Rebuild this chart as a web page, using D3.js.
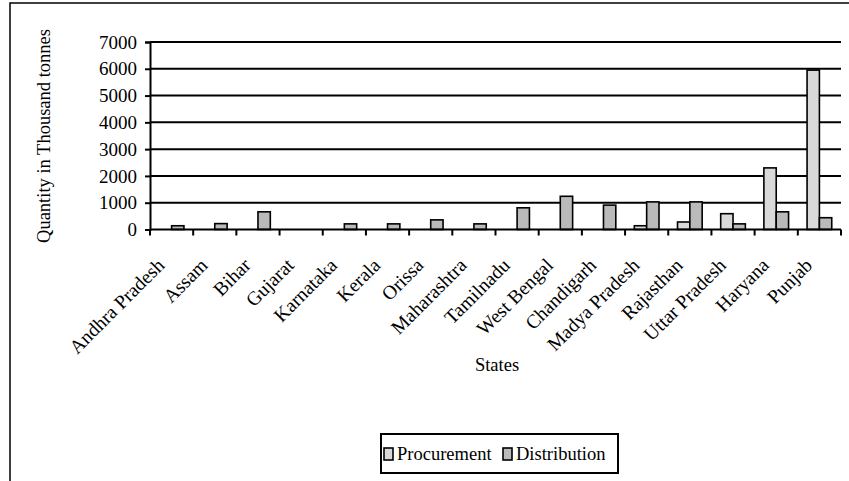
<!DOCTYPE html>
<html>
<head>
<meta charset="utf-8">
<script src="https://cdn.jsdelivr.net/npm/d3@7"></script>
<style>
  html, body { margin: 0; padding: 0; background: #fff; }
  svg { display: block; font-family: "Liberation Serif", "Times New Roman", serif; }
</style>
</head>
<body>
<svg id="chart" width="849" height="481"></svg>
<script>
// States in display order
const states = ["Andhra Pradesh", "Assam", "Bihar", "Gujarat", "Karnataka", "Kerala",
  "Orissa", "Maharashtra", "Tamilnadu", "West Bengal", "Chandigarh", "Madya Pradesh",
  "Rajasthan", "Uttar Pradesh", "Haryana", "Punjab"];

// Quantities in thousand tonnes
const procurement = [0, 0, 0, 0, 0, 0, 0, 0, 0, 0, 0, 140, 280, 590, 2300, 5950];
const distribution = [140, 220, 660, 0, 210, 210, 360, 210, 810, 1240, 910, 1030, 1030, 210, 660, 440];

const seriesNames = ["Procurement", "Distribution"];
const seriesColors = ["#d9d9d9", "#bababa"];
const yTicks = [0, 1000, 2000, 3000, 4000, 5000, 6000, 7000];

const FONT = 18.5;
const svg = d3.select("#chart");

// outer chart frame
svg.append("rect")
  .attr("x", 10).attr("y", 3)
  .attr("width", 900).attr("height", 600)
  .attr("fill", "none").attr("stroke", "#000").attr("stroke-width", 1.5);

const plot = { left: 150, right: 841, top: 42, bottom: 229.5 };

const x = d3.scaleBand().domain(states).range([plot.left, plot.right]).paddingInner(0).paddingOuter(0);
const y = d3.scaleLinear().domain([0, 7000]).range([plot.bottom, plot.top]);

// bars: two per state, centred in the band
const barW = x.bandwidth() / 3.5;
const rows = states.map((s, i) => ({ state: s, values: [procurement[i], distribution[i]] }));

// horizontal gridlines
svg.append("g")
  .selectAll("line")
  .data(yTicks.filter(t => t > 0))
  .join("line")
  .attr("x1", plot.left).attr("x2", plot.right)
  .attr("y1", d => y(d)).attr("y2", d => y(d))
  .attr("stroke", "#000").attr("stroke-width", 2);

const groups = svg.append("g").selectAll("g")
  .data(rows).join("g")
  .attr("transform", d => `translate(${x(d.state) + x.bandwidth() / 2},0)`);

groups.selectAll("rect")
  .data(d => d.values.map((v, k) => ({ v, k })).filter(e => e.v > 0))
  .join("rect")
  .attr("x", e => (e.k === 0 ? -barW : 0))
  .attr("width", barW)
  .attr("y", e => y(e.v))
  .attr("height", e => y(0) - y(e.v))
  .attr("fill", e => seriesColors[e.k])
  .attr("stroke", "#000").attr("stroke-width", 1.6);

// y axis
const yAxis = svg.append("g")
  .attr("transform", `translate(${plot.left},0)`)
  .call(d3.axisLeft(y).tickValues(yTicks).tickSize(5).tickPadding(8).tickFormat(d3.format("d")));
yAxis.selectAll("path, line").attr("stroke", "#000").attr("stroke-width", 2);
yAxis.selectAll("text").attr("font-size", 19).attr("font-family", "Liberation Serif").attr("fill", "#000");

// x axis with ticks at category boundaries
const xAxisG = svg.append("g").attr("transform", `translate(0,${plot.bottom})`);
xAxisG.append("line")
  .attr("x1", plot.left).attr("x2", plot.right)
  .attr("stroke", "#000").attr("stroke-width", 2);
xAxisG.selectAll("line.tick")
  .data(states.concat(["end"]))
  .join("line").attr("class", "tick")
  .attr("x1", (d, i) => plot.left + i * x.step())
  .attr("x2", (d, i) => plot.left + i * x.step())
  .attr("y1", 0).attr("y2", 6)
  .attr("stroke", "#000").attr("stroke-width", 2);

// rotated state labels
svg.append("g").selectAll("text")
  .data(states).join("text")
  .attr("transform", d => `translate(${x(d) + x.bandwidth() / 2 - 6},${plot.bottom + 37}) rotate(-45)`)
  .attr("text-anchor", "end")
  .attr("font-size", 19.5)
  .attr("fill", "#000")
  .text(d => d);

// axis titles
svg.append("text")
  .attr("transform", `translate(50,136) rotate(-90)`)
  .attr("text-anchor", "middle")
  .attr("font-size", FONT)
  .text("Quantity in Thousand tonnes");

svg.append("text")
  .attr("x", 497).attr("y", 371)
  .attr("text-anchor", "middle")
  .attr("font-size", FONT)
  .text("States");

// legend
const legend = svg.append("g").attr("transform", "translate(381,434)");
legend.append("rect")
  .attr("width", 237).attr("height", 39)
  .attr("fill", "#fff").attr("stroke", "#000").attr("stroke-width", 2);
const legendX = [3, 122];
seriesNames.forEach((name, k) => {
  const g = legend.append("g").attr("transform", `translate(${legendX[k]},14)`);
  g.append("rect").attr("width", 9).attr("height", 12)
    .attr("fill", seriesColors[k]).attr("stroke", "#000").attr("stroke-width", 1.6);
  g.append("text").attr("x", 13).attr("y", 11.5)
    .attr("font-size", FONT).text(name);
});
</script>
</body>
</html>
